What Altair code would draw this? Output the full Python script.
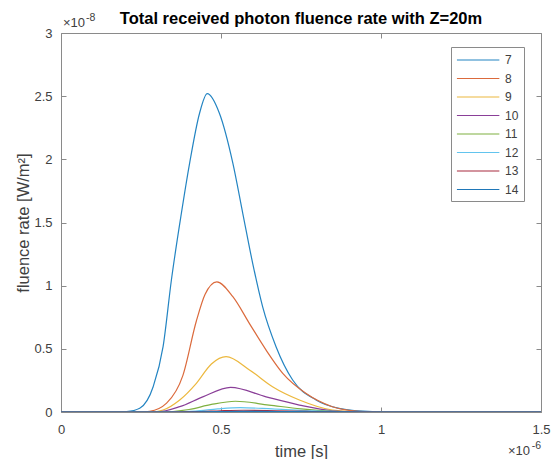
import altair as alt
import pandas as pd

# time in units of 1e-6 s, fluence in units of 1e-8 W/m^2
series_names = ["7", "8", "9", "10", "11", "12", "13", "14"]
series_colors = ["#2384c2", "#db6a3c", "#ecb83e", "#8a3f98", "#7fb040", "#62c4ee", "#a82a3f", "#1f77b8"]

t7 = [0, 0.18, 0.205, 0.246, 0.288, 0.319, 0.345, 0.376, 0.402, 0.433, 0.457, 0.495, 0.537, 0.568, 0.599, 0.63, 0.672, 0.724, 0.797, 0.869, 0.973, 1.05, 1.5]
v7 = [0, 0, 0.003, 0.03, 0.20, 0.517, 1.045, 1.57, 1.97, 2.365, 2.52, 2.365, 1.97, 1.573, 1.177, 0.834, 0.517, 0.253, 0.095, 0.029, 0.003, 0, 0]

t8 = [0, 0.25, 0.277, 0.33, 0.381, 0.423, 0.45, 0.487, 0.537, 0.589, 0.641, 0.693, 0.765, 0.848, 0.93, 1.0, 1.5]
v8 = [0, 0, 0.005, 0.07, 0.29, 0.72, 0.93, 1.03, 0.913, 0.70, 0.49, 0.306, 0.148, 0.042, 0.006, 0, 0]

t9 = [0, 0.28, 0.319, 0.371, 0.423, 0.47, 0.516, 0.589, 0.661, 0.745, 0.848, 0.95, 1.5]
v9 = [0, 0, 0.016, 0.095, 0.227, 0.38, 0.438, 0.333, 0.20, 0.095, 0.016, 0, 0]

t10 = [0, 0.3, 0.371, 0.443, 0.53, 0.641, 0.745, 0.848, 0.95, 1.5]
v10 = [0, 0, 0.042, 0.12, 0.195, 0.12, 0.055, 0.01, 0, 0]

t11 = [0, 0.3, 0.4, 0.47, 0.545, 0.65, 0.75, 0.85, 0.95, 1.5]
v11 = [0, 0, 0.02, 0.06, 0.085, 0.055, 0.025, 0.006, 0, 0]

t12 = [0, 0.32, 0.42, 0.49, 0.56, 0.66, 0.76, 0.87, 1.0, 1.5]
v12 = [0, 0, 0.008, 0.025, 0.035, 0.024, 0.011, 0.003, 0, 0]

t13 = [0, 0.33, 0.43, 0.5, 0.57, 0.67, 0.77, 0.88, 1.0, 1.5]
v13 = [0, 0, 0.003, 0.010, 0.014, 0.010, 0.0045, 0.001, 0, 0]

t14 = [0, 0.34, 0.44, 0.51, 0.58, 0.68, 0.78, 0.89, 1.0, 1.5]
v14 = [0, 0, 0.001, 0.0035, 0.005, 0.0035, 0.0016, 0.0004, 0, 0]

x_ticks = [0, 0.5, 1, 1.5]
y_ticks = [0, 0.5, 1, 1.5, 2, 2.5, 3]

times = [t7, t8, t9, t10, t11, t12, t13, t14]
vals = [v7, v8, v9, v10, v11, v12, v13, v14]
rows = []
for name, ts, vs in zip(series_names, times, vals):
    for t, v in zip(ts, vs):
        rows.append({"series": name, "t": t, "v": v})
df = pd.DataFrame(rows)

FONT = "Liberation Sans"
AX = "#8a8a8a"
LAB = "#404040"

xscale = alt.Scale(domain=[0, 1.5], nice=False, zero=False)
yscale = alt.Scale(domain=[0, 3], nice=False)

lines = alt.Chart(df).mark_line(interpolate="monotone", strokeWidth=1.2, clip=True).encode(
    x=alt.X("t:Q", scale=xscale, axis=alt.Axis(
        title="time [s]", values=x_ticks, format="~g", orient="bottom",
        domain=False, offset=-5, tickSize=5, tickColor=AX, labelPadding=11,
        labelFlush=False, labelOverlap=False, grid=False,
        titleY=44, titleBaseline="middle")),
    y=alt.Y("v:Q", scale=yscale, axis=alt.Axis(
        title="fluence rate [W/m²]", values=y_ticks, format="~g", orient="left",
        domain=False, offset=-5, tickSize=5, tickColor=AX, labelPadding=9,
        labelFlush=False, labelOverlap=False, grid=False,
        titleX=-35, titleY=189.5, titleAlign="center", titleBaseline="bottom")),
    color=alt.Color("series:N", sort=series_names,
                    scale=alt.Scale(domain=series_names, range=series_colors),
                    legend=alt.Legend(
                        title=None, orient="none", legendX=390, legendY=14,
                        symbolType="M-1,0H5", symbolSize=200, symbolStrokeWidth=1.2,
                        labelOffset=33, labelFontSize=12, labelFont=FONT, labelColor=LAB,
                        fillColor="white", strokeColor=AX, padding=5, rowPadding=4.5,
                        cornerRadius=0)),
    order=alt.Order("series_idx:Q"),
).transform_calculate(series_idx="toNumber(datum.series)")

frame = alt.Chart(df).mark_line(opacity=0).encode(
    x=alt.X("t:Q", scale=xscale, axis=alt.Axis(
        title=None, values=x_ticks, orient="top", labels=False,
        domain=False, offset=-5, tickSize=5, tickColor=AX, grid=False)),
    y=alt.Y("v:Q", scale=yscale, axis=alt.Axis(
        title=None, values=y_ticks, orient="right", labels=False,
        domain=False, offset=-5, tickSize=5, tickColor=AX, grid=False)),
)

def txt(s, size, align, x, y):
    return alt.Chart(pd.DataFrame({"s": [s]})).mark_text(
        align=align, baseline="alphabetic", fontSize=size, font=FONT, color=LAB
    ).encode(text="s:N", x=alt.value(x), y=alt.value(y))

exp_y_base = txt("×10", 13, "left", 2, -6)
exp_y_sup = txt("-8", 10.5, "left", 25, -12)
exp_x_base = txt("×10", 13, "right", 469, 422)
exp_x_sup = txt("-6", 10.5, "right", 480, 416)

chart = alt.layer(lines, frame, exp_y_base, exp_y_sup, exp_x_base, exp_x_sup).resolve_axis(
    x="independent", y="independent"
).properties(
    width=480, height=379,
    padding={"left": 61, "top": 33, "right": 10, "bottom": 47},
    autosize="none",
    title=alt.TitleParams("Total received photon fluence rate with Z=20m",
                          font=FONT, fontSize=16.5, fontWeight="bold", color="black",
                          anchor="middle", offset=-14),
).configure_view(stroke=AX, strokeWidth=1).configure_axis(
    labelFont=FONT, labelFontSize=13, labelColor=LAB,
    titleFont=FONT, titleFontSize=16.5, titleColor=LAB, titleFontWeight="normal"
)

chart.save("out.html", embed_options={"renderer": "svg", "actions": False})
